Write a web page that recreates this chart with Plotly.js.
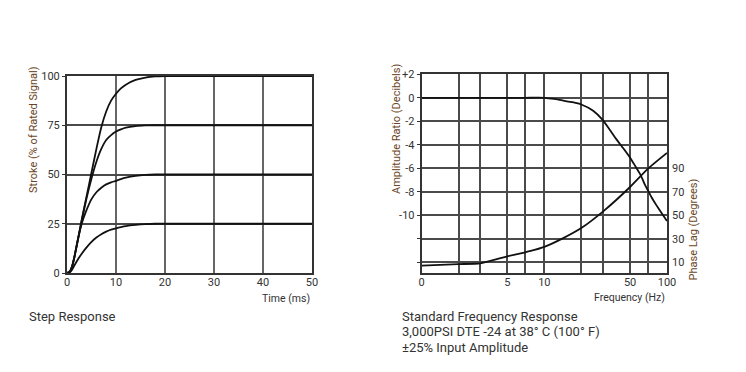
<!DOCTYPE html>
<html>
<head>
<meta charset="utf-8">
<script src="https://cdn.plot.ly/plotly-3.0.1.min.js"></script>
<style>html,body{margin:0;padding:0;background:#fff;}#chart{width:746px;height:372px;}</style>
</head>
<body>
<div id="chart"></div>
<script>
// ---- Step response data ----
const stepTime = [0, 0.5, 1, 1.5, 2, 3, 4, 5, 6, 7, 8, 9, 10, 11, 12, 14, 16, 18, 20, 23, 50];
const step100 = [0, 0.5, 3, 8, 14, 27, 39, 51, 63, 74, 82, 87.5, 91, 93.7, 95.6, 98, 99.2, 99.8, 100, 100, 100];
const step75  = [0, 0.5, 3, 8, 14, 26.5, 38, 48, 56.5, 63, 67.5, 70, 71.8, 72.9, 73.8, 74.6, 74.9, 75, 75, 75, 75];
const step50  = [0, 0.5, 3, 8, 14.5, 25, 32, 37.5, 41, 43.3, 45, 46, 46.8, 47.7, 48.4, 49.3, 49.8, 50, 50, 50, 50];
const step25  = [0, 0.2, 1.5, 3.8, 6, 9.8, 13, 15.8, 18, 19.7, 21, 22, 22.7, 23.3, 23.8, 24.4, 24.8, 25, 25, 25, 25];
const stepXTicks = [0, 10, 20, 30, 40, 50];
const stepYTicks = [0, 25, 50, 75, 100];

// ---- Frequency response data ----
const freqHz    = [1, 2, 3, 5, 7, 10, 12, 14, 17, 20, 25, 30, 34, 38.5, 44, 50, 55, 59.6, 63, 66, 70, 75, 81.4, 90, 100];
const ampDb     = [0, 0, 0, 0, 0, 0, -0.1, -0.23, -0.38, -0.57, -1.1, -1.9, -2.7, -3.5, -4.3, -5.1, -5.8, -6.4, -6.9, -7.4, -7.9, -8.5, -9.1, -9.8, -10.5];
const phaseFreq = [1, 2, 3, 5, 7, 7.6, 10, 14, 20, 30, 50, 70, 100];
const phaseDeg  = [7, 8.3, 9, 15, 18.4, 19.3, 23, 30, 39, 53, 74, 89.6, 103];
const freqTickVals = [1, 2, 3, 5, 7, 10, 20, 30, 50, 70, 100];
const freqTickText = ['0', '', '', '5', '', '10', '', '', '50', '', '100'];
const ampTickVals = [-14, -12, -10, -8, -6, -4, -2, 0, 2];
const ampTickText = ['', '', '-10', '-8', '-6', '-4', '-2', '0', '+2'];
const phaseTicks = [10, 30, 50, 70, 90];

const W = 746, H = 372;
const px = x => x / W;
const py = y => 1 - y / H;

const FONT = 'Roboto, sans-serif';
const TICKC = '#333';
const TITLEC = '#6b4626';
const lineStyle = {color: '#111', width: 1.8, shape: 'spline', smoothing: 0.5};

const traces = [
  {x: stepTime, y: step100, xaxis: 'x', yaxis: 'y', mode: 'lines', line: lineStyle, hoverinfo: 'skip'},
  {x: stepTime, y: step75, xaxis: 'x', yaxis: 'y', mode: 'lines', line: lineStyle, hoverinfo: 'skip'},
  {x: stepTime, y: step50, xaxis: 'x', yaxis: 'y', mode: 'lines', line: lineStyle, hoverinfo: 'skip'},
  {x: stepTime, y: step25, xaxis: 'x', yaxis: 'y', mode: 'lines', line: lineStyle, hoverinfo: 'skip'},
  {x: freqHz, y: ampDb, xaxis: 'x2', yaxis: 'y2', mode: 'lines', line: lineStyle, hoverinfo: 'skip'},
  {x: phaseFreq, y: phaseDeg, xaxis: 'x2', yaxis: 'y3', mode: 'lines', line: lineStyle, hoverinfo: 'skip'}
];

const axBase = {
  showline: true, mirror: true, linecolor: '#333', linewidth: 2,
  gridcolor: '#4a4a4a', gridwidth: 2, zeroline: false,
  tickfont: {family: FONT, size: 11, color: TICKC},
  fixedrange: true
};

const layout = {
  width: W, height: H,
  margin: {l: 0, r: 0, t: 0, b: 0},
  paper_bgcolor: '#fff', plot_bgcolor: '#fff',
  showlegend: false,
  font: {family: FONT, color: TICKC},
  xaxis: Object.assign({}, axBase, {
    domain: [px(67), px(312)], range: [0, 50], tickvals: stepXTicks,
    anchor: 'y', ticks: '', gridcolor: '#666', ticklabelstandoff: -2
  }),
  yaxis: Object.assign({}, axBase, {
    domain: [py(273), py(76)], range: [0, 100], tickvals: stepYTicks,
    anchor: 'x', ticks: 'outside', ticklen: 3, tickcolor: '#333'
  }),
  xaxis2: Object.assign({}, axBase, {
    domain: [px(421.7), px(667)], type: 'log', range: [0, 2],
    tickvals: freqTickVals, ticktext: freqTickText, anchor: 'y2', ticks: '', ticklabelstandoff: -2
  }),
  yaxis2: Object.assign({}, axBase, {
    domain: [py(272.7), py(74.3)], range: [-14.9, 2],
    tickvals: ampTickVals, ticktext: ampTickText, anchor: 'x2',
    ticks: 'outside', ticklen: 3, tickcolor: '#333'
  }),
  yaxis3: Object.assign({}, axBase, {
    overlaying: 'y2', side: 'right', anchor: 'x2',
    range: [1, 170], tickvals: phaseTicks, showgrid: false, showline: false,
    ticks: '', ticklabelstandoff: 4
  }),
  annotations: [
    {text: 'Stroke (% of Rated Signal)', textangle: -90, x: px(33), y: py(130), xref: 'paper', yref: 'paper',
     showarrow: false, font: {family: FONT, size: 11, color: TITLEC}, xanchor: 'center', yanchor: 'middle'},
    {text: 'Time (ms)', x: px(312), y: py(298), xref: 'paper', yref: 'paper', showarrow: false,
     font: {family: FONT, size: 10.5, color: TICKC}, xanchor: 'right', yanchor: 'middle'},
    {text: 'Amplitude Ratio (Decibels)', textangle: -90, x: px(396), y: py(129), xref: 'paper', yref: 'paper',
     showarrow: false, font: {family: FONT, size: 11, color: TITLEC}, xanchor: 'center', yanchor: 'middle'},
    {text: 'Phase Lag (Degrees)', textangle: -90, x: px(693), y: py(229.5), xref: 'paper', yref: 'paper',
     showarrow: false, font: {family: FONT, size: 11, color: TITLEC}, xanchor: 'center', yanchor: 'middle'},
    {text: 'Frequency (Hz)', x: px(667), y: py(297), xref: 'paper', yref: 'paper', showarrow: false,
     font: {family: FONT, size: 10.5, color: TICKC}, xanchor: 'right', yanchor: 'middle'},
    {text: 'Step Response', x: px(27), y: py(316), xref: 'paper', yref: 'paper', showarrow: false,
     font: {family: FONT, size: 13, color: TICKC}, xanchor: 'left', yanchor: 'middle'},
    {text: 'Standard Frequency Response', x: px(400), y: py(316), xref: 'paper', yref: 'paper', showarrow: false,
     font: {family: FONT, size: 13, color: TICKC}, xanchor: 'left', yanchor: 'middle'},
    {text: '3,000PSI DTE -24 at 38° C (100° F)', x: px(400), y: py(331.5), xref: 'paper', yref: 'paper', showarrow: false,
     font: {family: FONT, size: 13, color: TICKC}, xanchor: 'left', yanchor: 'middle'},
    {text: '±25% Input Amplitude', x: px(400), y: py(347), xref: 'paper', yref: 'paper', showarrow: false,
     font: {family: FONT, size: 13, color: TICKC}, xanchor: 'left', yanchor: 'middle'}
  ]
};

Plotly.newPlot('chart', traces, layout, {staticPlot: true, displayModeBar: false});
</script>
</body>
</html>
